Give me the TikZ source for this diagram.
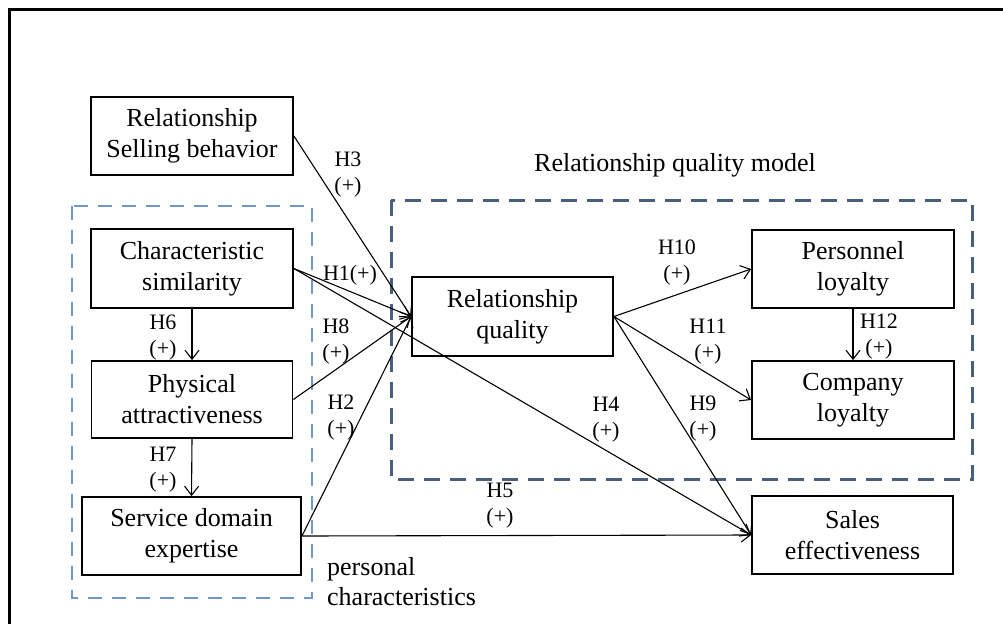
\documentclass[tikz,border=0pt]{standalone}
\usepackage{fontspec}
\setmainfont{Liberation Serif}
\usetikzlibrary{arrows.meta}
\definecolor{lightdash}{RGB}{112,152,204}
\definecolor{darkdash}{RGB}{72,96,126}
\begin{document}
\begin{tikzpicture}[x=1pt,y=-1pt,
  box/.style={draw,line width=1.8pt,align=center,font=\fontsize{26}{31}\selectfont,inner sep=0pt},
  conn/.style={line width=1.1pt,-{Straight Barb[length=9pt,width=14pt,line width=1.1pt]}},
  lbl/.style={font=\fontsize{22}{26}\selectfont,inner sep=0pt,align=center},
  grouplbl/.style={font=\fontsize{26}{30}\selectfont,inner sep=0pt},
  lightgroup/.style={draw=lightdash,line width=2.4pt,dash pattern=on 14pt off 10pt},
  darkgroup/.style={draw=darkdash,line width=3pt,dash pattern=on 16pt off 10pt}]
\useasboundingbox (0,0) rectangle (1003,624);
% outer frame (top and left edges only)
\draw[line width=3pt] (9,624) -- (9,9) -- (1003,9);
% group frames
\draw[lightgroup] (72,206) rectangle (312,598);
\draw[darkgroup] (391,200) rectangle (972,479);
\node[grouplbl] (rqm) at (675,165) {Relationship quality model};
\node[grouplbl,align=left,anchor=west] (pc) at (327,582) {personal\\characteristics};
% boxes
\node[box,minimum width=202pt,minimum height=78pt] (rsb) at (192,136) {Relationship\\Selling behavior};
\node[box,minimum width=202pt,minimum height=79pt] (cs) at (192,268.5) {Characteristic\\similarity};
\node[box,minimum width=201pt,minimum height=77pt] (pa) at (192,399.5) {Physical\\attractiveness};
\node[box,minimum width=219pt,minimum height=78pt] (sde) at (191.5,536) {Service domain\\expertise};
\node[box,minimum width=201pt,minimum height=79pt] (rq) at (512.5,316.5) {Relationship\\quality};
\node[box,minimum width=202pt,minimum height=78pt] (pl) at (853,269) {Personnel\\loyalty};
\node[box,minimum width=202pt,minimum height=78pt] (cl) at (853,400) {Company\\loyalty};
\node[box,minimum width=201pt,minimum height=78pt] (se) at (852.5,535) {Sales\\effectiveness};
% connectors
\draw[conn] (rsb.east) -- (rq.west);
\draw[conn] (cs.east) -- (rq.west);
\draw[conn] (cs.east) -- (se.west);
\draw[conn] (pa.east) -- (rq.west);
\draw[conn] (sde.east) -- (rq.west);
\draw[conn] (sde.east) -- (se.west);
\draw[conn] (cs.south) -- (pa.north);
\draw[conn] (pa.south) -- (sde.north);
\draw[conn] (rq.east) -- (pl.west);
\draw[conn] (rq.east) -- (cl.west);
\draw[conn] (rq.east) -- (se.west);
\draw[conn] (pl.south) -- (cl.north);
% labels
\node[lbl] (h3) at (348,175) {H3\\(+)};
\node[lbl] (h1) at (350,275) {H1(+)};
\node[lbl] (h8) at (336,342) {H8\\(+)};
\node[lbl] (h2) at (341,418) {H2\\(+)};
\node[lbl] (h6) at (163,338) {H6\\(+)};
\node[lbl] (h7) at (163,470) {H7\\(+)};
\node[lbl] (h10) at (677,263) {H10\\(+)};
\node[lbl] (h11) at (708,342) {H11\\(+)};
\node[lbl] (h12) at (879,337) {H12\\(+)};
\node[lbl] (h9) at (703,419) {H9\\(+)};
\node[lbl] (h4) at (606,420) {H4\\(+)};
\node[lbl] (h5) at (500,506) {H5\\(+)};
\end{tikzpicture}
\end{document}
